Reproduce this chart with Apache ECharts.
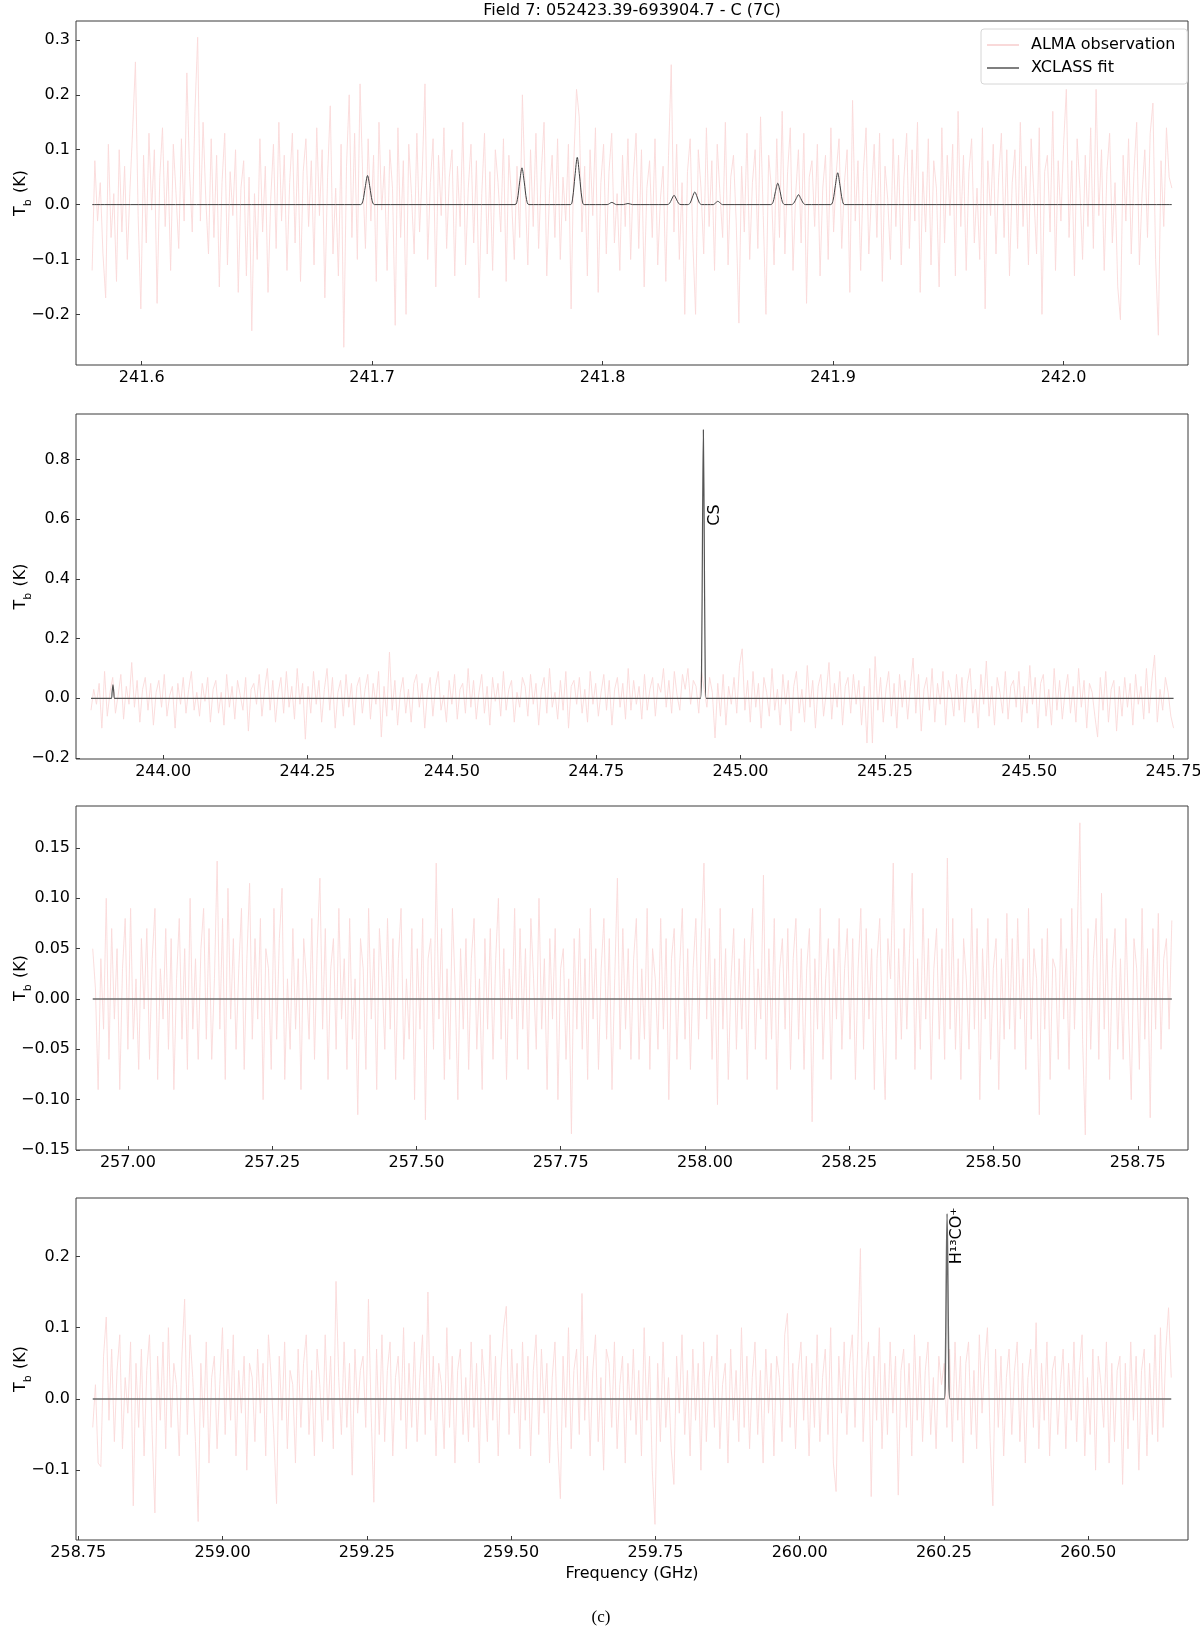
<!DOCTYPE html>
<html>
<head>
<meta charset="utf-8">
<title>Field 7: 052423.39-693904.7 - C (7C)</title>
<script src="https://cdn.jsdelivr.net/npm/echarts@6.0.0/dist/echarts.min.js"></script>
<style>
  html, body { margin: 0; padding: 0; background: #fff; }
  #main { width: 1200px; height: 1632px; }
</style>
</head>
<body>
<div id="main"></div>
<script>
// first and last channel (GHz) of each spectral window
var range1 = [241.5785, 242.047]
var range2 = [243.875, 245.75]
var range3 = [256.939, 258.809]
var range4 = [258.775, 260.644]

// ALMA observation, T_b (K) per channel
var alma1 = [
  -0.12, 0.08, -0.03, 0.04, -0.09, -0.17, 0.11, -0.06, 0.02, -0.14, 0.1, -0.05, 0.07, -0.1, 0.03, 0.14, 0.26, -0.02, -0.19, 0.09,
  -0.07, 0.13, -0.01, 0.1, -0.18, 0.05, 0.14, -0.04, 0.08, -0.12, 0.11, 0.02, -0.08, 0.12, -0.03, 0.24, 0.06, -0.05, 0.17, 0.305,
  -0.03, 0.15, 0.01, -0.09, 0.12, -0.06, 0.09, -0.15, 0.04, 0.13, -0.11, 0.06, -0.02, 0.1, -0.16, 0.03, 0.08, -0.13, 0.05, -0.23,
  0.02, -0.1, 0.12, -0.05, 0.07, -0.16, 0.01, 0.11, -0.08, 0.15, -0.03, 0.09, -0.12, 0.04, 0.13, -0.07, 0.1, -0.14, 0.06, 0.12,
  -0.04, 0.08, -0.11, 0.14, -0.02, 0.1, -0.17, 0.05, 0.18, -0.09, 0.03, -0.13, 0.11, -0.26, 0.07, 0.2, -0.06, 0.13, -0.1, 0.22,
  0.05, -0.08, 0.12, -0.03, 0.09, -0.14, 0.15, -0.01, 0.07, -0.12, 0.1, 0.03, -0.22, 0.14, -0.06, 0.08, -0.2, 0.11, 0.02, -0.09,
  0.13, -0.05, 0.06, 0.22, -0.1, 0.04, 0.12, -0.15, 0.09, -0.02, 0.14, -0.08, 0.05, 0.1, -0.13, 0.07, -0.04, 0.15, -0.11, 0.03,
  0.11, -0.07, 0.08, -0.17, 0.02, 0.13, -0.09, 0.06, -0.12, 0.1, 0.04, -0.05, 0.12, -0.14, 0.09, 0.01, -0.1, 0.07, -0.06, 0.2,
  0.03, -0.11, 0.1, -0.04, 0.13, -0.08, 0.06, 0.15, -0.13, 0.02, 0.09, -0.06, 0.12, -0.1, 0.05, -0.03, 0.11, -0.19, 0.08, 0.21,
  0.16, -0.05, 0.07, -0.13, 0.1, -0.02, 0.14, -0.16, 0.04, 0.11, -0.09, 0.06, 0.13, -0.07, 0.02, -0.12, 0.09, -0.04, 0.12, -0.1,
  0.05, 0.13, -0.08, 0.1, -0.15, 0.03, 0.08, -0.06, 0.12, -0.11, 0.01, 0.07, -0.14, 0.09, 0.255, -0.05, 0.11, -0.1, 0.04, -0.2,
  0.06, 0.12, -0.07, -0.2, 0.1, 0.03, -0.09, 0.14, -0.04, 0.08, -0.12, 0.11, 0.02, -0.06, 0.15, -0.11, 0.05, 0.09, -0.03, -0.216,
  0.07, -0.05, 0.13, -0.1, 0.04, 0.1, -0.08, 0.16, -0.02, -0.2, 0.09, 0.03, -0.11, 0.12, -0.06, 0.17, -0.09, 0.06, 0.14, -0.12,
  0.02, 0.1, -0.07, 0.13, -0.18, 0.05, 0.08, -0.04, 0.11, -0.13, 0.03, 0.09, -0.1, 0.14, -0.05, 0.06, 0.12, -0.08, 0.04, 0.1,
  -0.16, 0.19, -0.03, 0.08, -0.12, 0.06, 0.14, -0.09, 0.02, 0.11, -0.06, 0.13, -0.14, 0.07, 0.01, -0.1, 0.12, -0.04, 0.09, -0.11,
  0.05, 0.13, -0.08, 0.1, -0.03, 0.15, -0.16, 0.06, -0.05, 0.12, -0.11, 0.08, 0.03, -0.15, 0.14, -0.07, 0.09, -0.02, 0.11, -0.13,
  0.17, -0.04, 0.09, -0.12, 0.06, 0.12, -0.07, 0.03, -0.1, 0.14, -0.19, 0.08, -0.02, 0.11, -0.09, 0.05, 0.13, -0.06, 0.1, -0.13,
  0.04, 0.1, -0.08, 0.15, -0.04, 0.07, -0.11, 0.12, 0.02, -0.09, 0.14, -0.2, 0.06, 0.09, -0.05, 0.17, -0.12, 0.08, -0.03, 0.11,
  0.21, -0.06, 0.08, -0.13, 0.12, 0.03, -0.1, 0.09, -0.04, 0.14, -0.08, 0.21, -0.02, 0.1, -0.12, 0.06, 0.13, -0.07, 0.04, -0.15,
  -0.21, 0.09, -0.03, 0.12, -0.09, 0.06, 0.15, -0.11, 0.02, 0.1, -0.06, 0.13, 0.185, -0.1, -0.238, 0.08, -0.04, 0.14, 0.05, 0.03
]
var alma2 = [
  -0.04, 0.03, -0.02, 0.05, -0.1, 0.09, -0.06, 0.02, 0.07, -0.05, 0.01, 0.08, -0.07, 0.04, -0.02, 0.12, -0.03, 0.06, -0.08, 0.03,
  0.07, -0.04, 0.05, -0.09, 0.02, 0.06, -0.03, 0.08, -0.06, 0.01, 0.04, -0.1, 0.05, -0.02, 0.07, -0.05, 0.03, 0.09, -0.04, 0.02,
  -0.06, 0.05, -0.01, 0.07, -0.08, 0.03, 0.06, -0.05, 0.02, -0.09, 0.08, -0.03, 0.04, -0.07, 0.06, 0.01, -0.04, 0.07, -0.11, 0.03,
  0.05, -0.02, 0.08, -0.06, 0.03, 0.1, -0.04, 0.06, -0.08, 0.02, 0.07, -0.05, 0.09, -0.03, 0.04, -0.07, 0.1, -0.02, 0.05, -0.137,
  0.04, -0.05, 0.09, -0.02, 0.06, -0.08, 0.03, 0.1, -0.04, 0.07, -0.1, 0.02, 0.06, -0.06, 0.08, -0.03, 0.05, -0.09, 0.04, 0.07,
  -0.05, 0.03, 0.08, -0.07, 0.05, -0.02, 0.09, -0.13, 0.04, -0.06, 0.155, -0.04, 0.06, -0.09, 0.02, 0.07, -0.05, 0.03, -0.08, 0.05,
  0.08, -0.03, 0.05, -0.1, 0.02, 0.07, -0.06, 0.04, 0.09, -0.04, 0.01, -0.08, 0.06, -0.02, 0.08, -0.07, 0.03, 0.05, -0.05, 0.1,
  -0.03, 0.06, -0.07, 0.02, 0.08, -0.05, 0.04, -0.09, 0.07, -0.01, 0.05, -0.06, 0.09, -0.04, 0.03, 0.06, -0.08, 0.02, -0.03, 0.07,
  0.04, -0.06, 0.08, -0.02, 0.05, -0.09, 0.03, 0.07, -0.05, 0.1, -0.03, 0.02, -0.07, 0.06, -0.04, 0.09, -0.1, 0.04, 0.06, -0.02,
  0.07, -0.05, 0.03, -0.08, 0.09, -0.02, 0.05, -0.06, 0.02, 0.08, -0.04, 0.06, -0.09, 0.03, 0.07, -0.03, 0.05, -0.07, 0.1, -0.04,
  0.06, -0.02, 0.04, -0.07, 0.08, -0.04, 0.03, 0.07, -0.06, 0.05, 0.02, 0.1, -0.03, 0.06, -0.05, 0.09, 0.01, -0.04, 0.08, 0.03,
  0.1, -0.02, 0.06, 0.04, -0.05, 0.09, 0.03, -0.03, 0.07, 0.02, -0.133, 0.05, -0.06, 0.08, -0.09, 0.04, -0.02, 0.07, -0.05, 0.11,
  0.166, -0.04, 0.06, -0.08, 0.09, -0.03, 0.05, -0.1, 0.07, 0.02, -0.06, 0.1, -0.04, 0.03, -0.09, 0.08, -0.02, 0.06, -0.11, 0.04,
  0.09, -0.05, 0.03, -0.08, 0.11, -0.03, 0.06, -0.1, 0.04, 0.08, -0.06, 0.02, 0.12, -0.07, 0.05, -0.03, 0.09, -0.09, 0.04, 0.07,
  -0.05, 0.08, -0.02, 0.06, -0.09, 0.04, -0.15, 0.1, -0.15, 0.14, -0.04, 0.07, -0.08, 0.03, 0.09, -0.06, 0.05, -0.1, 0.08, -0.03,
  0.06, -0.07, 0.04, 0.135, -0.05, 0.08, -0.11, 0.03, 0.07, -0.04, 0.1, -0.08, 0.05, -0.02, 0.09, -0.09, 0.06, 0.02, -0.06, 0.08,
  -0.04, 0.07, -0.08, 0.05, 0.1, -0.05, 0.03, -0.1, 0.08, -0.02, 0.125, -0.06, 0.04, -0.09, 0.07, 0.02, -0.05, 0.09, -0.07, 0.04,
  0.06, -0.03, 0.09, -0.08, 0.04, -0.05, 0.11, -0.02, 0.07, -0.1, 0.05, 0.08, -0.06, 0.03, -0.09, 0.1, -0.04, 0.06, -0.07, 0.02,
  0.08, -0.05, 0.04, -0.08, 0.1, -0.03, 0.06, -0.1, 0.05, 0.02, -0.06, -0.13, 0.07, -0.04, 0.09, -0.08, 0.03, 0.06, -0.11, 0.04,
  -0.06, 0.07, -0.03, 0.05, -0.09, 0.08, -0.02, 0.04, -0.07, 0.1, -0.05, 0.06, 0.145, -0.08, 0.03, -0.04, 0.07, 0.02, -0.06, -0.1
]
var alma3 = [
  0.05, 0.01, -0.09, 0.04, -0.03, 0.1, -0.06, 0.07, -0.02, 0.05, -0.09, 0.03, 0.08, -0.05, 0.09, -0.04, 0.02, -0.07, 0.06, -0.01,
  0.07, -0.06, 0.04, 0.09, -0.08, 0.03, -0.02, 0.07, -0.05, 0.06, -0.09, 0.02, 0.08, -0.04, 0.05, -0.07, 0.1, -0.03, 0.04, -0.06,
  0.05, 0.09, -0.04, 0.07, -0.06, 0.02, 0.137, -0.03, 0.08, -0.08, 0.11, -0.02, 0.06, -0.05, 0.03, 0.09, -0.07, 0.04, 0.115, -0.04,
  0.06, -0.02, 0.08, -0.1, 0.05, 0.03, -0.07, 0.09, -0.04, 0.06, 0.11, -0.08, 0.02, -0.05, 0.07, -0.03, 0.04, -0.09, 0.06, 0.02,
  -0.04, 0.08, -0.06, 0.05, 0.12, -0.03, 0.07, -0.08, 0.03, 0.06, -0.05, 0.09, -0.02, 0.04, -0.07, 0.08, -0.04, 0.02, -0.115, 0.06,
  0.03, -0.07, 0.09, -0.02, 0.05, -0.09, 0.07, 0.02, -0.05, 0.08, -0.03, 0.06, -0.08, 0.04, 0.09, -0.06, 0.02, -0.04, 0.07, -0.1,
  0.05, -0.03, 0.08, -0.12, 0.04, 0.06, -0.05, 0.135, -0.02, 0.07, -0.08, 0.03, -0.06, 0.09, 0.01, -0.1, 0.05, -0.03, 0.06, -0.07,
  0.04, 0.08, -0.05, 0.02, -0.09, 0.06, -0.03, 0.07, -0.06, 0.04, 0.1, -0.04, 0.05, -0.08, 0.03, -0.02, 0.09, -0.06, 0.07, -0.03,
  0.05, -0.07, 0.08, 0.02, -0.05, 0.1, -0.03, 0.04, -0.09, 0.06, -0.02, 0.07, -0.1, 0.03, 0.05, -0.06, 0.02, -0.134, 0.06, -0.03,
  0.07, -0.05, 0.04, -0.08, 0.09, -0.02, 0.05, -0.07, 0.03, 0.08, -0.04, 0.06, -0.09, 0.02, 0.12, -0.05, 0.07, -0.03, 0.05, -0.06,
  0.04, 0.08, -0.06, 0.03, -0.04, 0.09, -0.07, 0.05, 0.02, -0.05, 0.08, -0.03, 0.06, -0.1, 0.04, 0.07, -0.06, 0.03, 0.09, -0.04,
  0.05, -0.07, 0.03, 0.08, -0.04, 0.06, 0.135, -0.02, 0.07, -0.06, 0.04, -0.105, 0.09, -0.03, 0.05, -0.08, 0.02, 0.07, -0.05, 0.04,
  -0.03, 0.06, -0.08, 0.04, 0.09, -0.05, 0.03, -0.02, 0.123, -0.06, 0.05, -0.04, 0.08, -0.09, 0.03, 0.06, -0.03, 0.07, -0.07, 0.04,
  0.08, -0.04, 0.05, -0.07, 0.03, 0.07, -0.122, 0.04, -0.03, 0.09, -0.06, 0.02, 0.06, -0.08, 0.05, -0.02, 0.08, -0.05, 0.03, 0.07,
  -0.04, 0.06, -0.08, 0.03, 0.09, -0.05, 0.07, -0.02, 0.05, -0.09, 0.04, 0.08, -0.03, -0.1, 0.06, 0.02, 0.135, -0.06, 0.05, -0.04,
  0.07, -0.03, 0.05, 0.125, -0.07, 0.04, -0.05, 0.09, -0.02, 0.06, -0.08, 0.03, 0.07, -0.04, 0.05, -0.06, 0.14, -0.03, 0.08, -0.05,
  0.04, -0.08, 0.06, 0.02, -0.05, 0.09, -0.03, 0.07, -0.1, 0.05, -0.02, 0.08, -0.06, 0.03, 0.06, -0.09, 0.04, -0.04, 0.085, -0.03,
  0.06, -0.05, 0.08, -0.02, 0.04, -0.07, 0.09, -0.04, 0.05, 0.02, -0.115, 0.06, -0.03, 0.07, -0.08, 0.04, 0.03, -0.06, 0.08, -0.02,
  0.05, -0.07, 0.09, -0.03, 0.06, 0.175, -0.04, -0.135, 0.07, -0.05, 0.04, 0.08, -0.06, 0.105, -0.03, 0.06, -0.08, 0.03, 0.07, -0.05,
  0.04, -0.06, 0.08, -0.02, -0.1, 0.06, 0.03, -0.07, 0.09, -0.04, 0.05, -0.118, 0.07, -0.03, 0.085, -0.05, 0.04, 0.06, -0.03, 0.078
]
var alma4 = [
  -0.04, 0.02, -0.09, -0.095, 0.06, 0.115, -0.03, 0.07, -0.06, 0.04, 0.09, -0.07, 0.03, -0.02, 0.08, -0.15, 0.05, -0.04, 0.07, -0.08,
  0.04, 0.09, -0.05, -0.16, 0.06, -0.03, 0.08, -0.07, 0.1, -0.04, 0.05, 0.02, -0.08, 0.06, 0.14, -0.05, 0.09, 0.03, -0.06, -0.172,
  0.05, -0.04, 0.08, -0.09, 0.03, 0.06, -0.07, 0.02, 0.1, -0.05, 0.07, -0.03, 0.09, -0.08, 0.04, -0.02, 0.06, -0.1, 0.05, 0.03,
  -0.06, 0.07, -0.02, 0.05, -0.08, 0.09, 0.03, -0.05, -0.147, 0.06, -0.03, 0.08, -0.07, 0.04, 0.02, -0.09, 0.07, -0.04, 0.05, 0.09,
  -0.05, 0.04, -0.08, 0.07, 0.02, -0.06, 0.09, -0.03, 0.06, -0.07, 0.165, 0.03, -0.05, 0.08, -0.04, 0.05, -0.107, 0.07, -0.02, 0.04,
  0.06, -0.04, 0.14, -0.02, -0.145, 0.07, -0.05, 0.09, -0.06, 0.04, 0.08, -0.08, 0.03, 0.06, -0.03, 0.1, -0.07, 0.05, -0.04, 0.08,
  -0.06, 0.03, 0.09, -0.05, 0.15, -0.03, 0.06, -0.08, 0.05, 0.02, -0.07, 0.1, -0.04, 0.06, -0.09, 0.04, 0.07, -0.05, 0.03, -0.06,
  0.08, -0.04, 0.05, -0.09, 0.07, 0.02, -0.06, 0.09, -0.03, 0.06, -0.08, 0.04, 0.1, 0.13, -0.05, 0.07, -0.02, 0.05, -0.07, 0.08,
  -0.03, 0.06, -0.08, 0.04, 0.09, -0.05, 0.07, -0.02, 0.05, -0.09, 0.03, 0.08, -0.06, -0.14, 0.06, -0.04, 0.1, -0.07, 0.04, 0.07,
  -0.05, 0.148, -0.03, 0.06, -0.08, 0.04, 0.09, -0.06, 0.03, -0.1, 0.07, 0.05, -0.04, 0.08, -0.07, 0.02, 0.06, -0.09, 0.05, -0.03,
  0.07, -0.05, 0.04, -0.08, 0.1, -0.03, 0.06, -0.1, -0.176, 0.05, -0.06, 0.08, -0.04, 0.03, -0.07, -0.12, 0.06, -0.02, 0.09, -0.05,
  0.04, -0.08, 0.07, -0.03, 0.05, -0.1, 0.08, -0.06, 0.03, 0.06, -0.04, 0.09, -0.07, 0.02, 0.05, -0.09, 0.07, -0.03, 0.04, -0.06,
  0.1, -0.04, 0.06, -0.07, 0.03, 0.08, -0.05, 0.04, -0.09, 0.07, -0.02, 0.05, -0.08, 0.06, 0.03, -0.06, 0.09, 0.12, -0.04, 0.05,
  -0.07, 0.04, 0.08, -0.03, 0.06, -0.08, 0.05, -0.04, 0.09, -0.06, 0.03, 0.07, -0.05, 0.1, -0.09, -0.13, 0.06, -0.02, 0.08, -0.05,
  0.05, 0.09, -0.04, 0.07, 0.211, -0.06, 0.04, 0.08, -0.137, 0.06, -0.03, 0.1, -0.07, 0.05, -0.05, 0.08, -0.02, 0.06, -0.135, 0.04,
  0.07, -0.04, 0.05, -0.08, 0.09, -0.03, 0.06, -0.06, 0.04, 0.08, -0.05, 0.03, -0.07, 0.06, 0.02, 0.05, -0.04, 0.07, -0.06, 0.08,
  -0.03, 0.06, -0.09, 0.05, 0.08, -0.05, 0.04, -0.07, 0.09, -0.02, 0.05, 0.1, -0.06, -0.15, 0.07, -0.04, 0.06, -0.08, 0.03, 0.07,
  -0.05, 0.04, 0.08, -0.06, 0.05, -0.09, 0.03, 0.07, -0.04, 0.107, -0.07, 0.05, -0.03, 0.08, -0.08, 0.04, 0.06, -0.05, 0.02, 0.07,
  -0.07, 0.05, -0.03, 0.08, -0.06, 0.04, 0.09, -0.08, 0.03, -0.05, 0.07, -0.1, 0.06, 0.02, -0.04, 0.08, -0.09, 0.05, -0.06, 0.04,
  0.06, -0.12, 0.05, -0.07, 0.08, -0.03, 0.06, -0.1, 0.04, 0.07, -0.08, 0.05, -0.05, 0.09, -0.06, 0.1, -0.04, 0.07, 0.128, 0.03
]

// XCLASS fit, [frequency (GHz), T_b (K)]
var fit1 = [
  [241.5785, 0],
  [241.695, 0], [241.696, 0.007], [241.697, 0.032], [241.698, 0.053], [241.699, 0.032], [241.700, 0.007], [241.701, 0],
  [241.762, 0], [241.763, 0.009], [241.764, 0.041], [241.765, 0.067], [241.766, 0.041], [241.767, 0.009], [241.768, 0],
  [241.786, 0], [241.787, 0.012], [241.788, 0.052], [241.789, 0.086], [241.790, 0.052], [241.791, 0.012], [241.792, 0],
  [241.802, 0], [241.804, 0.004], [241.806, 0],
  [241.809, 0], [241.811, 0.002], [241.813, 0],
  [241.828, 0], [241.829, 0.002], [241.830, 0.010], [241.831, 0.017], [241.832, 0.010], [241.833, 0.002], [241.834, 0],
  [241.837, 0], [241.838, 0.003], [241.839, 0.014], [241.840, 0.023], [241.841, 0.014], [241.842, 0.003], [241.843, 0],
  [241.848, 0], [241.849, 0.003], [241.850, 0.006], [241.851, 0.003], [241.852, 0],
  [241.873, 0], [241.874, 0.005], [241.875, 0.024], [241.876, 0.039], [241.877, 0.024], [241.878, 0.005], [241.879, 0],
  [241.882, 0], [241.883, 0.003], [241.884, 0.011], [241.885, 0.018], [241.886, 0.011], [241.887, 0.003], [241.888, 0],
  [241.899, 0], [241.900, 0.008], [241.901, 0.035], [241.902, 0.058], [241.903, 0.035], [241.904, 0.008], [241.905, 0],
  [242.047, 0]
]
var fit2 = [
  [243.875, 0],
  [243.910, 0], [243.9115, 0.02], [243.913, 0.045], [243.9145, 0.02], [243.916, 0],
  [244.9306, 0], [244.9326, 0.13], [244.9341, 0.55], [244.9356, 0.90], [244.9371, 0.55], [244.9386, 0.13], [244.9406, 0],
  [245.75, 0]
]
var fit3 = [[256.939, 0], [258.809, 0]]
var fit4 = [
  [258.775, 0],
  [260.2505, 0], [260.2525, 0.04], [260.254, 0.16], [260.2555, 0.26], [260.257, 0.16], [260.2585, 0.04], [260.2605, 0],
  [260.644, 0]
]

// tick values
var xTicks1 = [241.6, 241.7, 241.8, 241.9, 242.0]
var xTicks2 = [244.0, 244.25, 244.5, 244.75, 245.0, 245.25, 245.5, 245.75]
var xTicks3 = [257.0, 257.25, 257.5, 257.75, 258.0, 258.25, 258.5, 258.75]
var xTicks4 = [258.75, 259.0, 259.25, 259.5, 259.75, 260.0, 260.25, 260.5]
var yTicks1 = [-0.2, -0.1, 0.0, 0.1, 0.2, 0.3]
var yTicks2 = [-0.2, 0.0, 0.2, 0.4, 0.6, 0.8]
var yTicks3 = [-0.15, -0.1, -0.05, 0.0, 0.05, 0.1, 0.15]
var yTicks4 = [-0.1, 0.0, 0.1, 0.2]

// line identifications: [frequency, T_b] where the label sits
var csLabelAt = [244.955, 0.614]
var hcoLabelAt = [260.272, 0.229]

var FONT = 'DejaVu Sans'
var OBS_COLOR = '#fad9d9'
var FRAME = '#3a3a3a'

function channels (range, values) {
  var step = (range[1] - range[0]) / (values.length - 1)
  return values.map(function (v, i) { return [range[0] + i * step, v] })
}

var panels = [
  { top: 21, height: 344, x: [241.5715, 242.054], y: [-0.2923, 0.3346], xTicks: xTicks1, yTicks: yTicks1, xDec: 1, yDec: 1, obs: channels(range1, alma1), fit: fit1, fitColor: '#404040', fitWidth: 1 },
  { top: 414, height: 345, x: [243.849, 245.775], y: [-0.2035, 0.953], xTicks: xTicks2, yTicks: yTicks2, xDec: 2, yDec: 1, obs: channels(range2, alma2), fit: fit2, fitColor: '#555', fitWidth: 1.2 },
  { top: 806, height: 344, x: [256.910, 258.837], y: [-0.150, 0.1917], xTicks: xTicks3, yTicks: yTicks3, xDec: 2, yDec: 2, obs: channels(range3, alma3), fit: fit3, fitColor: '#6a6a6a', fitWidth: 1.5 },
  { top: 1198, height: 342, x: [258.746, 260.673], y: [-0.198, 0.282], xTicks: xTicks4, yTicks: yTicks4, xDec: 2, yDec: 1, obs: channels(range4, alma4), fit: fit4, fitColor: '#6a6a6a', fitWidth: 1.5 }
]

function fmt (dec) {
  return function (v) { return v.toFixed(dec).replace('-', '\u2212') }
}

var grids = []
var xAxes = []
var yAxes = []
var series = []

panels.forEach(function (p, i) {
  grids.push({
    left: 76, width: 1112, top: p.top, height: p.height,
    containLabel: false, outerBoundsMode: 'none',
    show: true, borderColor: FRAME, borderWidth: 1, backgroundColor: 'transparent'
  })
  xAxes.push({
    type: 'value', gridIndex: i, min: p.x[0], max: p.x[1],
    axisLine: { show: false, onZero: false },
    splitLine: { show: false },
    axisTick: { show: true, inside: true, length: 4, customValues: p.xTicks, lineStyle: { color: FRAME } },
    axisLabel: { customValues: p.xTicks, formatter: fmt(p.xDec), fontSize: 16, fontFamily: FONT, color: '#000', margin: 5 }
  })
  yAxes.push({
    type: 'value', gridIndex: i, min: p.y[0], max: p.y[1],
    axisLine: { show: false, onZero: false },
    splitLine: { show: false },
    axisTick: { show: true, inside: true, length: 4, customValues: p.yTicks, lineStyle: { color: FRAME } },
    axisLabel: { customValues: p.yTicks, formatter: fmt(p.yDec), fontSize: 16, fontFamily: FONT, color: '#000', margin: 6 },
    name: '{n|T}{s|b}{n| (K)}',
    nameLocation: 'middle',
    nameRotate: 90,
    nameGap: 41,
    nameMoveOverlap: false,
    nameTextStyle: {
      fontFamily: FONT, fontSize: 16, color: '#000',
      rich: {
        n: { fontFamily: FONT, fontSize: 16, color: '#000', lineHeight: 22, verticalAlign: 'top' },
        s: { fontFamily: FONT, fontSize: 11, color: '#000', lineHeight: 11, padding: [8, 1, 0, 0] }
      }
    }
  })
  series.push({
    name: 'ALMA observation', type: 'line', xAxisIndex: i, yAxisIndex: i,
    data: p.obs, symbol: 'none', showSymbol: false, color: OBS_COLOR,
    lineStyle: { color: OBS_COLOR, width: 0.9 }, z: 1, silent: true
  })
  series.push({
    name: 'XCLASS fit', type: 'line', xAxisIndex: i, yAxisIndex: i,
    data: p.fit, symbol: 'none', showSymbol: false, smooth: 0.3, color: p.fitColor,
    lineStyle: { color: p.fitColor, width: p.fitWidth }, z: 3, silent: true
  })
})

var chart = echarts.init(document.getElementById('main'), null, { renderer: 'canvas' })
chart.setOption({
  animation: false,
  backgroundColor: '#fff',
  textStyle: { fontFamily: FONT },
  grid: grids,
  xAxis: xAxes,
  yAxis: yAxes,
  legend: {
    data: [
      { name: 'ALMA observation', icon: 'rect', itemStyle: { color: '#f7cccc' } },
      { name: 'XCLASS fit', icon: 'rect', itemStyle: { color: '#555' } }
    ],
    orient: 'vertical',
    left: 981,
    top: 29,
    width: 200,
    padding: [7, 12, 7, 6],
    itemGap: 5,
    itemWidth: 32,
    itemHeight: 1.5,
    backgroundColor: '#fff',
    borderColor: '#d6d6d6',
    borderWidth: 1,
    borderRadius: 3,
    textStyle: { fontFamily: FONT, fontSize: 16, color: '#000', lineHeight: 18, padding: [0, 0, 0, 7] }
  },
  series: series
})

var csPx = chart.convertToPixel({ gridIndex: 1 }, csLabelAt)
var hcoPx = chart.convertToPixel({ gridIndex: 3 }, hcoLabelAt)

chart.setOption({
  graphic: [
    { type: 'text', x: 632, y: 10.5, style: { text: 'Field 7: 052423.39-693904.7 - C (7C)', font: '16px "DejaVu Sans"', fill: '#000', align: 'center', verticalAlign: 'middle' } },
    { type: 'text', x: 632, y: 1574, style: { text: 'Frequency (GHz)', font: '16px "DejaVu Sans"', fill: '#000', align: 'center', verticalAlign: 'middle' } },
    { type: 'text', x: 601, y: 1618, style: { text: '(c)', font: '17px "Liberation Serif"', fill: '#000', align: 'center', verticalAlign: 'middle' } },
    { type: 'text', x: csPx[0], y: csPx[1], rotation: Math.PI / 2, style: { text: 'CS', font: '16px "DejaVu Sans"', fill: '#000', align: 'center', verticalAlign: 'middle' } },
    { type: 'text', x: hcoPx[0], y: hcoPx[1], rotation: Math.PI / 2, style: { text: 'H\u00b9\u00b3CO\u207a', font: '16px "DejaVu Sans"', fill: '#000', align: 'center', verticalAlign: 'middle' } }
  ]
})
</script>
</body>
</html>
